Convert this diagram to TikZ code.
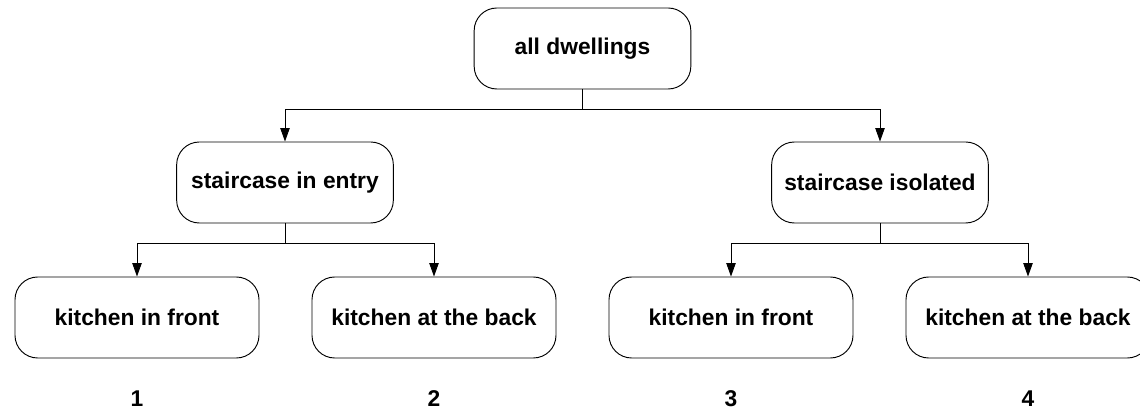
\documentclass[tikz,border=0pt]{standalone}
\usepackage{fontspec}
\setmainfont{Liberation Sans}
\usetikzlibrary{arrows.meta}
\begin{document}
\begin{tikzpicture}[x=0.75pt,y=-0.75pt,
  box/.style={draw=black,line width=0.7pt,rounded corners=17pt,inner sep=0pt,
    minimum height=60.75pt,font=\bfseries\fontsize{17.1pt}{20pt}\selectfont,fill=white},
  wide/.style={box,minimum width=183pt},
  narrow/.style={box,minimum width=162.5pt},
  num/.style={font=\bfseries\fontsize{17.1pt}{20pt}\selectfont,inner sep=0pt},
  arr/.style={line width=0.7pt,-{Triangle[length=10pt,width=7pt]}}]
\useasboundingbox (0,0) rectangle (1140,413);
\clip (0,0) rectangle (1140,413);
\node[narrow] (top) at (582.5,48.5) {all dwellings};
\node[narrow] (L) at (285,182.5) {staircase in entry};
\node[narrow] (R) at (880,182.5) {staircase isolated};
\node[wide] (B1) at (137,317.5) {kitchen in front};
\node[wide] (B2) at (434,317.5) {kitchen at the back};
\node[wide] (B3) at (731,317.5) {kitchen in front};
\node[wide] (B4) at (1028,317.5) {kitchen at the back};
\node[num] (n1) at (137,399) {1};
\node[num] (n2) at (434,399) {2};
\node[num] (n3) at (731,399) {3};
\node[num] (n4) at (1028,399) {4};
\draw[arr] (top.south) -- ++(0,20) -| (L.north);
\draw[arr] (top.south) -- ++(0,20) -| (R.north);
\draw[arr] (L.south) -- ++(0,20) -| (B1.north);
\draw[arr] (L.south) -- ++(0,20) -| (B2.north);
\draw[arr] (R.south) -- ++(0,20) -| (B3.north);
\draw[arr] (R.south) -- ++(0,20) -| (B4.north);
\end{tikzpicture}
\end{document}
